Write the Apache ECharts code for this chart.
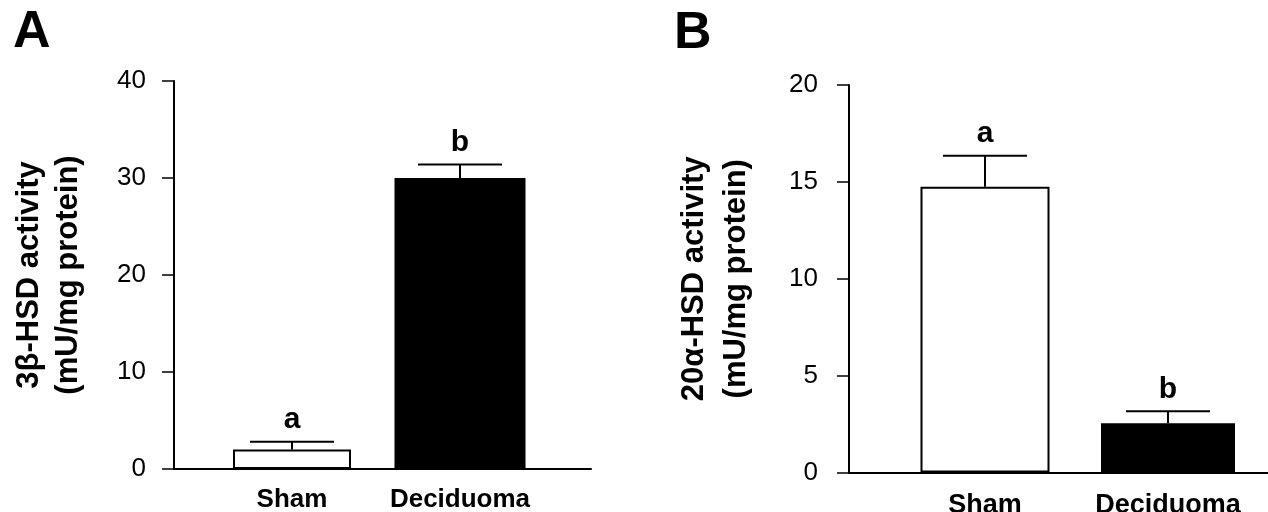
<!DOCTYPE html>
<html><head><meta charset="utf-8">
<script src="https://cdn.jsdelivr.net/npm/echarts@6/dist/echarts.min.js"></script>
<style>html,body{margin:0;padding:0;background:#fff}#c{width:1268px;height:512px}</style>
</head><body><div id="c"></div>
<script>
// ---- data ----
const categories = ['Sham', 'Deciduoma'];
const hsd3bMean = [2.0, 30.0];
const hsd3bSem = [0.8, 1.4];
const hsd3bLetters = ['a', 'b'];
const hsd3bTicks = [0, 10, 20, 30, 40];
const hsd20aMean = [14.75, 2.54];
const hsd20aSem = [1.6, 0.62];
const hsd20aLetters = ['a', 'b'];
const hsd20aTicks = [0, 5, 10, 15, 20];

const FONT = 'Liberation Sans, Arial, Helvetica, sans-serif';
const chart = echarts.init(document.getElementById('c'), null, {renderer: 'canvas'});

const grid = [], xAxis = [], yAxis = [], series = [];

function addPanel(p) {
  const gA = grid.length;
  grid.push({left: p.axisLeft, top: p.top, width: p.axisWidth, height: p.height, containLabel: false, outerBoundsMode: 'none'});
  const gB = grid.length;
  grid.push({left: p.barLeft, top: p.top, width: p.barWidth, height: p.height, containLabel: false, outerBoundsMode: 'none'});
  const step = p.ticks[1] - p.ticks[0];
  const yMin = p.ticks[0], yMax = p.ticks[p.ticks.length - 1];

  xAxis.push({gridIndex: gA, type: 'category', data: [''],
    axisLine: {show: true, lineStyle: {color: '#000', width: 2}},
    axisTick: {show: false}, axisLabel: {show: false}, splitLine: {show: false}});
  yAxis.push({gridIndex: gA, type: 'value', min: yMin, max: yMax, interval: step,
    name: p.title, nameLocation: 'middle', nameRotate: 90, nameGap: p.nameGap,
    nameTextStyle: {fontFamily: FONT, fontWeight: 'bold', fontSize: 31, color: '#000', lineHeight: p.nameLH},
    axisLine: {show: true, lineStyle: {color: '#000', width: 2}},
    axisTick: {show: true, inside: false, length: 12, lineStyle: {color: '#000', width: 1.5}},
    axisLabel: {show: true, margin: p.labelMargin, fontFamily: FONT, fontSize: 26, color: '#000'},
    splitLine: {show: false}});

  const x0 = xAxis.length;
  xAxis.push({gridIndex: gB, type: 'category', data: categories,
    axisLine: {show: false}, axisTick: {show: false},
    axisLabel: {show: true, interval: 0, hideOverlap: false, margin: p.catMargin, fontFamily: FONT, fontWeight: 'bold', fontSize: p.catFont, color: '#000'},
    splitLine: {show: false}});
  const x1 = xAxis.length;
  xAxis.push({gridIndex: gB, type: 'category', data: categories,
    axisLine: {show: false}, axisTick: {show: false}, axisLabel: {show: false}, splitLine: {show: false}});
  const yB = yAxis.length;
  yAxis.push({gridIndex: gB, type: 'value', min: yMin, max: yMax, interval: step, show: false});

  series.push({type: 'bar', xAxisIndex: x0, yAxisIndex: yB, barWidth: p.barWidths[0],
    data: [p.mean[0], '-'],
    itemStyle: {color: '#fff', borderColor: '#000', borderWidth: 2}, silent: true, z: 2});
  series.push({type: 'bar', xAxisIndex: x1, yAxisIndex: yB, barWidth: p.barWidths[1],
    data: ['-', p.mean[1]],
    itemStyle: {color: '#000', borderColor: '#000', borderWidth: 2}, silent: true, z: 2});

  const letters = p.letters;
  series.push({type: 'custom', xAxisIndex: x0, yAxisIndex: yB, z: 5, silent: true,
    data: p.mean.map((m, i) => [i, m, p.sem[i]]),
    encode: {x: 0, y: 1},
    renderItem: function (params, api) {
      const i = api.value(0), m = api.value(1), s = api.value(2);
      const base = api.coord([i, m]);
      const top = api.coord([i, m + s]);
      const half = 42;
      return {type: 'group', children: [
        {type: 'line', shape: {x1: base[0], y1: base[1], x2: top[0], y2: top[1]}, style: {stroke: '#000', lineWidth: 2}},
        {type: 'line', shape: {x1: top[0] - half, y1: top[1], x2: top[0] + half, y2: top[1]}, style: {stroke: '#000', lineWidth: 2}},
        {type: 'text', x: top[0], y: top[1] - 7,
          style: {text: letters[params.dataIndex], font: 'bold 30px ' + FONT, fill: '#000', align: 'center', verticalAlign: 'bottom'}}
      ]};
    }
  });
}

addPanel({axisLeft: 174, axisWidth: 417, barLeft: 208, barWidth: 336, top: 81, height: 388,
  ticks: hsd3bTicks, mean: hsd3bMean, sem: hsd3bSem, letters: hsd3bLetters,
  barWidths: [118, 131], title: '3β-HSD activity\n(mU/mg protein)', nameGap: 86, nameLH: 39,
  labelMargin: 28, catMargin: 18, catFont: 26});
addPanel({axisLeft: 849, axisWidth: 419, barLeft: 893.5, barWidth: 366, top: 85, height: 387.5,
  ticks: hsd20aTicks, mean: hsd20aMean, sem: hsd20aSem, letters: hsd20aLetters,
  barWidths: [129, 134], title: '20α-HSD activity\n(mU/mg protein)', nameGap: 92, nameLH: 42,
  labelMargin: 31, catMargin: 20, catFont: 27});

chart.setOption({
  animation: false,
  backgroundColor: '#fff',
  title: [
    {text: 'A', left: 8, top: 2, textStyle: {fontFamily: FONT, fontWeight: 'bold', fontSize: 52, color: '#000'}},
    {text: 'B', left: 669, top: 3, textStyle: {fontFamily: FONT, fontWeight: 'bold', fontSize: 52, color: '#000'}}
  ],
  grid: grid, xAxis: xAxis, yAxis: yAxis, series: series
});
</script></body></html>
